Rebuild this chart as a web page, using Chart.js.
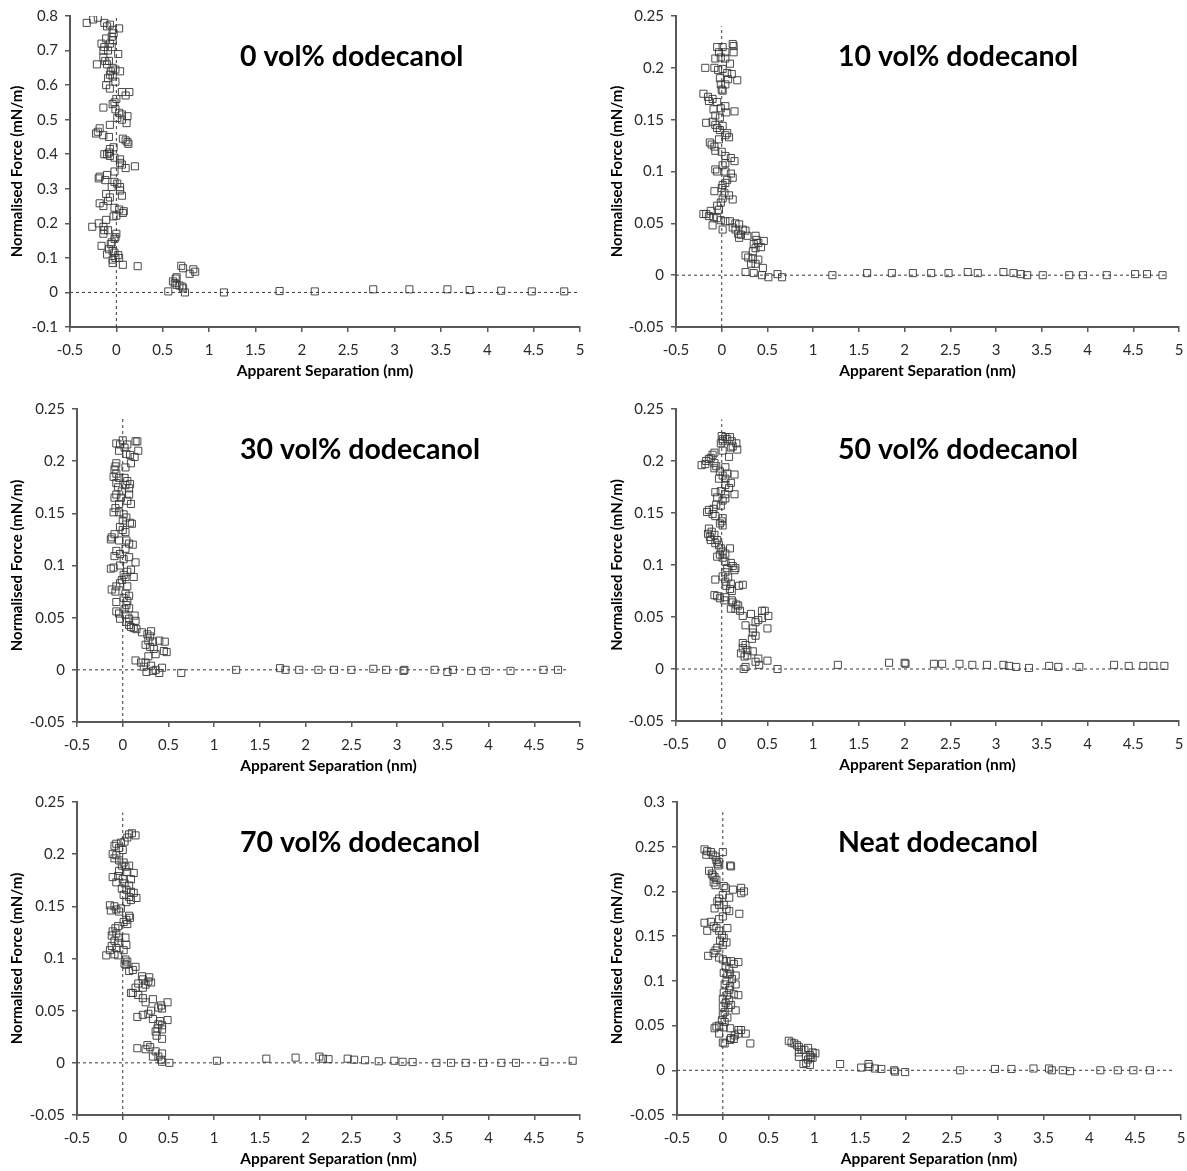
<!DOCTYPE html>
<html>
<head>
<meta charset="utf-8">
<title>Normalised force vs apparent separation</title>
<script src="https://cdn.jsdelivr.net/npm/chart.js@4.4.1/dist/chart.umd.min.js"></script>
<style>
  html, body { margin: 0; padding: 0; background: #fff; }
  #wrap { position: relative; width: 1187px; height: 1171px; overflow: hidden; }
  #wrap canvas { position: absolute; }
</style>
</head>
<body>
<div id="wrap">
  <canvas id="c0"></canvas>
  <canvas id="c10"></canvas>
  <canvas id="c30"></canvas>
  <canvas id="c50"></canvas>
  <canvas id="c70"></canvas>
  <canvas id="cNeat"></canvas>
</div>
<script>
// ---- measured force curves: apparent separation (nm) and normalised force (mN/m) ----
const sep0 = [
-0.32,-0.25,-0.20,-0.13,-0.10,-0.07,-0.04,0.03,-0.03,-0.05,
-0.11,-0.04,-0.16,-0.13,-0.07,-0.14,-0.09,-0.05,0.02,-0.14,
-0.12,-0.21,-0.10,-0.08,-0.04,-0.01,0.04,-0.06,-0.07,-0.09,
-0.04,-0.01,-0.11,-0.07,0.06,0.14,0.10,0.00,-0.02,-0.14,
-0.04,-0.01,0.03,0.06,0.12,0.01,0.06,0.11,-0.07,-0.18,
-0.20,-0.22,-0.14,-0.08,0.07,0.10,0.13,0.12,-0.03,-0.07,
-0.08,-0.10,-0.13,-0.02,-0.07,0.04,0.04,0.06,0.10,0.20,
-0.02,-0.10,-0.18,-0.19,-0.12,-0.02,0.01,-0.05,0.04,0.04,
0.06,-0.11,-0.07,-0.09,-0.18,-0.14,-0.02,0.03,0.08,0.07,
-0.03,0.00,-0.11,-0.19,-0.26,-0.14,-0.13,-0.09,-0.14,0.00,
-0.01,-0.02,-0.05,-0.06,-0.16,-0.08,-0.04,-0.02,-0.10,0.02,
-0.01,-0.04,0.03,-0.04,0.07,0.23,
0.70,0.72,0.83,0.85,0.79,0.65,0.64,0.61,0.63,0.65,0.68,0.71,0.72,0.56,0.74,
1.16,1.76,2.14,2.77,3.16,3.57,3.81,4.15,4.48,4.83];
const force0 = [
0.78,0.79,0.795,0.78,0.77,0.775,0.76,0.764,0.75,0.74,
0.735,0.73,0.72,0.71,0.72,0.70,0.70,0.71,0.69,0.68,
0.67,0.66,0.66,0.67,0.65,0.645,0.64,0.64,0.63,0.62,
0.625,0.61,0.60,0.59,0.58,0.58,0.57,0.56,0.55,0.535,
0.545,0.53,0.52,0.515,0.51,0.505,0.50,0.49,0.485,0.475,
0.465,0.46,0.455,0.45,0.445,0.44,0.43,0.435,0.42,0.415,
0.405,0.40,0.40,0.39,0.395,0.385,0.375,0.37,0.36,0.365,
0.35,0.34,0.335,0.33,0.325,0.32,0.315,0.305,0.305,0.295,
0.28,0.285,0.275,0.265,0.258,0.25,0.245,0.24,0.235,0.23,
0.22,0.222,0.21,0.20,0.19,0.19,0.18,0.18,0.17,0.17,
0.16,0.155,0.145,0.14,0.135,0.125,0.12,0.115,0.11,0.108,
0.10,0.095,0.10,0.085,0.08,0.076,
0.077,0.07,0.067,0.06,0.054,0.044,0.04,0.032,0.027,0.022,0.02,0.017,0.012,0.003,0.0,
0.0,0.004,0.003,0.009,0.009,0.009,0.007,0.005,0.003,0.003];

const sep10 = [
-0.05,0.01,0.04,0.12,0.13,0.13,-0.03,-0.01,-0.07,0.04,
0.09,-0.18,-0.08,-0.04,0.01,0.06,0.11,-0.02,0.07,0.17,
-0.01,0.04,0.00,0.01,-0.20,-0.15,-0.10,-0.14,-0.05,0.04,
-0.09,-0.01,0.14,0.05,-0.07,-0.02,-0.17,-0.10,-0.07,-0.05,
0.01,-0.02,0.06,0.04,0.08,-0.03,-0.13,-0.11,-0.08,-0.07,
0.00,0.04,0.10,0.14,0.04,0.01,-0.07,-0.05,0.04,0.10,
0.12,0.06,0.04,0.01,0.00,-0.08,0.03,0.08,0.12,0.01,
-0.01,-0.05,-0.03,-0.12,-0.20,-0.17,-0.14,-0.09,-0.05,-0.01,
-0.10,0.01,0.04,0.09,0.15,0.19,0.12,0.15,0.18,0.21,
0.19,0.23,0.26,0.28,0.37,0.38,0.35,0.40,0.46,0.43,
0.37,0.34,0.26,0.29,0.34,0.40,0.37,0.32,0.45,0.26,
0.35,0.44,0.51,0.61,0.66,1.21,1.59,1.86,2.09,2.29,
2.48,2.69,2.80,3.08,3.19,3.27,3.34,3.51,3.80,3.95,
4.21,4.52,4.65,4.82];
const force10 = [
0.22,0.22,0.215,0.223,0.221,0.215,0.215,0.21,0.209,0.209,
0.204,0.20,0.20,0.198,0.199,0.195,0.194,0.19,0.189,0.188,
0.184,0.184,0.179,0.178,0.175,0.172,0.17,0.168,0.167,0.163,
0.16,0.161,0.158,0.157,0.154,0.152,0.147,0.148,0.145,0.142,
0.144,0.14,0.137,0.135,0.133,0.131,0.128,0.126,0.124,0.12,
0.119,0.115,0.113,0.11,0.108,0.106,0.102,0.10,0.10,0.098,
0.094,0.092,0.089,0.087,0.084,0.081,0.079,0.077,0.073,0.074,
0.07,0.067,0.063,0.062,0.059,0.059,0.057,0.056,0.055,0.053,
0.048,0.044,0.052,0.052,0.05,0.049,0.046,0.044,0.04,0.039,
0.036,0.044,0.043,0.038,0.038,0.034,0.03,0.031,0.033,0.027,
0.026,0.023,0.019,0.017,0.016,0.015,0.011,0.011,0.007,0.003,
0.002,0.0,-0.002,0.001,-0.002,0.0,0.002,0.002,0.002,0.002,
0.002,0.003,0.002,0.003,0.002,0.001,0.0,0.0,0.0,0.0,
0.0,0.001,0.001,0.0];

const sep30 = [
-0.07,0.00,-0.03,0.05,0.14,0.16,0.17,0.02,-0.04,0.04,
0.08,0.13,0.09,-0.07,0.03,-0.08,-0.09,-0.07,-0.10,-0.04,
0.02,-0.07,0.05,0.08,0.03,0.07,-0.05,-0.01,-0.07,-0.09,
-0.02,0.07,0.05,0.09,-0.04,-0.08,-0.10,-0.04,0.01,0.04,
0.00,0.08,0.10,-0.03,0.00,0.03,-0.09,-0.12,-0.13,-0.04,
0.04,0.07,0.11,0.03,-0.07,-0.03,-0.09,0.07,0.01,0.14,
-0.03,-0.13,-0.10,0.09,0.05,0.01,0.03,0.12,-0.01,-0.03,
-0.07,-0.12,0.05,-0.08,0.03,0.07,0.01,0.05,-0.07,0.04,
0.07,0.02,-0.07,-0.04,0.03,0.13,-0.03,0.07,0.14,0.04,
0.07,0.09,0.12,0.15,0.21,0.31,0.27,0.30,0.28,0.33,
0.40,0.46,0.25,0.30,0.34,0.45,0.48,0.36,0.28,0.14,
0.20,0.25,0.23,0.31,0.43,0.36,0.26,0.33,0.40,0.64,
1.24,1.72,1.78,1.93,2.14,2.31,2.50,2.74,2.88,3.07,
3.08,3.41,3.55,3.61,3.81,3.97,4.24,4.60,4.76];
const force30 = [
0.217,0.22,0.216,0.216,0.219,0.219,0.21,0.213,0.21,0.207,
0.206,0.204,0.198,0.198,0.194,0.195,0.192,0.188,0.185,0.184,
0.184,0.179,0.181,0.178,0.177,0.174,0.175,0.171,0.168,0.165,
0.165,0.168,0.162,0.159,0.159,0.155,0.151,0.151,0.149,0.146,
0.143,0.141,0.14,0.137,0.134,0.132,0.13,0.127,0.125,0.124,
0.124,0.121,0.12,0.116,0.114,0.111,0.109,0.108,0.106,0.103,
0.10,0.097,0.098,0.096,0.094,0.091,0.089,0.089,0.086,0.083,
0.08,0.077,0.08,0.075,0.073,0.071,0.069,0.066,0.065,0.062,
0.059,0.058,0.056,0.054,0.053,0.052,0.049,0.049,0.047,0.046,
0.043,0.041,0.04,0.039,0.036,0.037,0.034,0.032,0.028,0.027,
0.028,0.027,0.024,0.022,0.02,0.018,0.017,0.015,0.013,0.009,
0.007,0.007,0.003,0.004,0.002,0.0,-0.002,-0.001,-0.003,-0.003,
0.0,0.0016,0.0,0.0,0.0,0.0,0.0,0.001,0.0,-0.001,
0.0,0.0,-0.002,0.0,-0.001,-0.001,-0.001,0.0,0.0];

const sep50 = [
0.00,0.04,0.09,0.01,0.06,-0.01,0.01,0.11,0.16,0.12,
0.10,0.17,0.01,0.08,-0.08,-0.10,-0.12,-0.14,-0.17,-0.22,
-0.18,-0.08,-0.06,-0.08,0.04,-0.02,0.01,0.06,0.14,-0.03,
0.04,0.10,0.04,0.08,-0.07,-0.01,0.04,0.14,-0.05,0.01,
0.04,-0.06,-0.01,-0.09,-0.14,-0.16,-0.10,-0.07,0.01,0.00,
-0.02,0.01,-0.14,-0.15,-0.11,-0.08,-0.13,-0.12,-0.05,-0.07,
-0.03,-0.01,0.09,0.01,0.04,-0.02,-0.05,0.01,0.04,0.10,
0.12,0.15,0.14,0.06,0.04,0.01,0.07,-0.07,0.04,0.10,
0.05,0.19,0.23,0.09,0.11,-0.08,-0.05,-0.02,0.03,0.04,
0.11,0.12,0.16,0.18,0.10,0.15,0.20,0.23,0.32,0.44,
0.47,0.51,0.44,0.40,0.26,0.37,0.50,0.34,0.34,0.37,
0.33,0.23,0.26,0.23,0.28,0.21,0.34,0.25,0.28,0.40,
0.50,0.37,0.41,0.26,0.24,0.61,1.27,1.83,2.00,2.01,
2.32,2.41,2.60,2.74,2.90,3.08,3.14,3.22,3.36,3.58,
3.68,3.91,4.29,4.45,4.61,4.72,4.84];
const force50 = [
0.224,0.223,0.223,0.221,0.221,0.217,0.219,0.219,0.217,0.214,
0.213,0.211,0.21,0.204,0.208,0.206,0.203,0.202,0.20,0.196,
0.197,0.198,0.195,0.193,0.194,0.19,0.186,0.188,0.187,0.183,
0.183,0.179,0.177,0.174,0.17,0.171,0.168,0.168,0.165,0.162,
0.164,0.158,0.157,0.154,0.153,0.151,0.149,0.147,0.145,0.142,
0.14,0.138,0.135,0.13,0.132,0.129,0.127,0.124,0.124,0.121,
0.119,0.116,0.116,0.113,0.111,0.11,0.108,0.107,0.103,0.102,
0.099,0.097,0.095,0.097,0.093,0.089,0.088,0.086,0.084,0.082,
0.08,0.08,0.081,0.077,0.075,0.071,0.07,0.068,0.066,0.069,
0.066,0.064,0.062,0.061,0.058,0.058,0.056,0.051,0.053,0.056,
0.056,0.051,0.049,0.047,0.042,0.045,0.039,0.039,0.035,0.032,
0.029,0.025,0.023,0.02,0.018,0.015,0.017,0.012,0.013,0.01,
0.008,0.007,0.004,0.002,0.0,0.0,0.004,0.006,0.006,0.005,
0.005,0.005,0.005,0.004,0.004,0.004,0.003,0.002,0.001,0.003,
0.002,0.002,0.004,0.003,0.003,0.003,0.003];

const sep70 = [
0.07,0.10,0.14,0.05,0.02,-0.02,-0.07,-0.09,-0.04,0.00,
-0.11,-0.07,-0.09,-0.04,0.01,-0.01,0.03,0.07,-0.04,0.05,
0.12,-0.05,-0.11,0.00,0.09,-0.07,0.02,0.07,-0.01,0.04,
0.09,0.12,0.01,0.07,0.15,0.09,0.04,-0.14,-0.09,-0.07,
-0.13,-0.02,-0.04,0.07,0.08,0.04,0.01,0.05,-0.05,-0.08,
-0.11,-0.07,-0.12,-0.04,0.03,-0.09,-0.05,0.04,-0.12,-0.07,
0.01,-0.14,-0.18,-0.09,-0.05,0.03,0.05,0.02,0.04,0.11,
0.07,0.14,0.21,0.29,0.22,0.28,0.31,0.17,0.25,0.14,
0.22,0.11,0.17,0.09,0.22,0.33,0.25,0.49,0.42,0.39,
0.43,0.31,0.28,0.22,0.16,0.33,0.49,0.41,0.39,0.43,
0.38,0.43,0.36,0.37,0.43,0.27,0.30,0.16,0.25,0.36,
0.43,0.33,0.39,0.42,0.43,0.51,1.03,1.57,1.89,2.15,
2.19,2.25,2.46,2.53,2.65,2.80,2.97,3.06,3.17,3.43,
3.59,3.75,3.94,4.14,4.30,4.61,4.92];
const force70 = [
0.219,0.22,0.218,0.216,0.212,0.211,0.21,0.208,0.206,0.204,
0.2,0.199,0.196,0.194,0.192,0.189,0.188,0.189,0.184,0.183,
0.182,0.179,0.178,0.176,0.176,0.173,0.172,0.17,0.167,0.166,
0.164,0.163,0.161,0.159,0.158,0.156,0.154,0.151,0.15,0.147,
0.146,0.148,0.145,0.141,0.139,0.137,0.135,0.133,0.131,0.129,
0.126,0.124,0.122,0.12,0.12,0.117,0.115,0.113,0.112,0.11,
0.108,0.108,0.103,0.104,0.103,0.099,0.097,0.095,0.094,0.089,
0.088,0.092,0.083,0.082,0.08,0.078,0.077,0.076,0.075,0.072,
0.072,0.067,0.065,0.067,0.062,0.061,0.058,0.058,0.055,0.053,
0.052,0.05,0.047,0.046,0.044,0.042,0.041,0.04,0.037,0.036,
0.033,0.032,0.03,0.026,0.023,0.017,0.015,0.014,0.013,0.011,
0.009,0.006,0.006,0.003,0.001,0.0,0.002,0.004,0.005,0.006,
0.004,0.0035,0.004,0.003,0.0025,0.0015,0.002,0.001,0.0007,0.0,
0.0,0.0,0.0,0.0,0.0,0.001,0.002];

const sepNeat = [
-0.20,-0.17,-0.18,-0.13,-0.11,-0.08,-0.07,-0.04,-0.06,0.00,
-0.05,0.08,0.09,-0.15,-0.12,-0.11,-0.09,-0.07,-0.10,-0.08,
0.01,0.03,0.11,0.20,0.23,0.20,0.07,0.00,-0.04,-0.06,
-0.04,-0.09,0.01,0.04,0.07,0.18,0.00,-0.04,-0.20,-0.13,
-0.17,-0.10,-0.07,0.05,-0.04,-0.01,0.01,-0.03,0.04,0.00,
-0.06,-0.08,-0.10,-0.16,-0.04,0.00,0.04,0.09,0.17,0.12,
0.03,0.07,0.01,0.05,0.08,0.14,0.10,0.04,0.02,0.08,
0.14,0.07,0.01,0.12,0.05,0.17,0.00,0.07,0.03,0.09,
0.00,0.06,0.14,0.02,0.00,0.05,-0.01,0.02,-0.07,-0.09,
-0.04,0.01,0.08,0.17,0.20,0.17,0.25,-0.04,0.13,0.09,
0.12,0.08,0.00,0.02,0.30,0.72,0.75,0.78,0.81,0.83,
0.86,0.83,0.89,0.93,0.98,1.01,0.95,0.96,0.98,0.93,
0.91,0.88,0.95,0.83,1.28,1.51,1.59,1.60,1.66,1.73,
1.87,1.88,1.99,2.59,2.97,3.15,3.39,3.56,3.59,3.71,
3.79,4.12,4.31,4.48,4.66];
const forceNeat = [
0.247,0.245,0.241,0.244,0.241,0.239,0.235,0.233,0.231,0.244,
0.229,0.229,0.228,0.223,0.22,0.218,0.216,0.213,0.21,0.207,
0.206,0.204,0.202,0.204,0.20,0.198,0.193,0.196,0.192,0.189,
0.185,0.181,0.185,0.18,0.178,0.175,0.172,0.169,0.165,0.166,
0.156,0.161,0.159,0.159,0.156,0.151,0.148,0.145,0.143,0.14,
0.137,0.134,0.131,0.128,0.126,0.124,0.122,0.122,0.121,0.119,
0.116,0.113,0.109,0.107,0.108,0.106,0.102,0.10,0.096,0.094,
0.096,0.09,0.087,0.085,0.084,0.084,0.08,0.079,0.075,0.073,
0.071,0.07,0.067,0.065,0.062,0.059,0.056,0.054,0.049,0.047,
0.05,0.048,0.047,0.045,0.045,0.041,0.041,0.041,0.039,0.036,
0.035,0.034,0.031,0.03,0.03,0.033,0.031,0.03,0.028,0.026,
0.023,0.02,0.023,0.025,0.02,0.019,0.017,0.015,0.014,0.012,
0.008,0.007,0.006,0.015,0.007,0.003,0.007,0.004,0.002,0.0015,
0.0,-0.0015,-0.002,0.0,0.0015,0.0015,0.002,0.002,0.0,0.0,
-0.001,0.0,0.0,0.0,0.0];

// ---- dashed reference lines: zero force (x span) and zero separation (y span) ----
const zeroForceSpan = { p0: [-0.5, 5], p10: [-0.5, 4.87], p30: [-0.5, 4.87], p50: [-0.5, 4.87], p70: [-0.5, 4.95], pNeat: [-0.5, 4.93] };
const zeroSepSpan   = { p0: [-0.1, 0.8], p10: [-0.05, 0.24], p30: [-0.05, 0.242], p50: [-0.05, 0.24], p70: [-0.05, 0.24], pNeat: [-0.05, 0.29] };

// ---- axis ranges and labels ----
const xTicks = { min: -0.5, max: 5, step: 0.5 };
const yRange = { p0: [-0.1, 0.8, 0.1], p10: [-0.05, 0.25, 0.05], p30: [-0.05, 0.25, 0.05], p50: [-0.05, 0.25, 0.05], p70: [-0.05, 0.25, 0.05], pNeat: [-0.05, 0.3, 0.05] };
const panelTitles = { p0: '0 vol% dodecanol', p10: '10 vol% dodecanol', p30: '30 vol% dodecanol', p50: '50 vol% dodecanol', p70: '70 vol% dodecanol', pNeat: 'Neat dodecanol' };
const xTitle = 'Apparent Separation (nm)';
const yTitle = 'Normalised Force (mN/m)';

// ---- page layout (pixels): canvas box and plot area, in page coordinates ----
const layoutSpec = [
  { key: 'p0',    canvas: 'c0',    sep: sep0,    force: force0,    box: [0, 0, 595],     area: [70, 13, 580, 327] },
  { key: 'p10',   canvas: 'c10',   sep: sep10,   force: force10,   box: [600, 0, 587],   area: [676, 13, 1179, 327] },
  { key: 'p30',   canvas: 'c30',   sep: sep30,   force: force30,   box: [0, 393, 595],   area: [77, 407, 580, 722] },
  { key: 'p50',   canvas: 'c50',   sep: sep50,   force: force50,   box: [600, 393, 587], area: [676, 406, 1179, 721] },
  { key: 'p70',   canvas: 'c70',   sep: sep70,   force: force70,   box: [0, 786, 595],   area: [77, 799, 580, 1115] },
  { key: 'pNeat', canvas: 'cNeat', sep: sepNeat, force: forceNeat, box: [600, 786, 587], area: [677, 800, 1184, 1115] }
];

const FONT = 'Lato, "Open Sans", sans-serif';
const AXIS_COLOR = '#595959';
const X_BAND = 58;

function fmt(v) {
  const r = Math.round(v * 1000) / 1000;
  return String(Object.is(r, -0) ? 0 : r);
}

// Bold caption drawn inside the plot area
const captionPlugin = {
  id: 'caption',
  afterDraw(chart, args, opts) {
    const ctx = chart.ctx;
    ctx.save();
    ctx.font = 'bold ' + opts.size + 'px ' + FONT;
    ctx.fillStyle = '#000';
    ctx.textBaseline = 'middle';
    ctx.textAlign = 'left';
    ctx.fillText(opts.text, opts.x, opts.y);
    ctx.restore();
  }
};

function build(spec) {
  const [cx, cy, cw] = spec.box;
  const [al, at, ar, ab] = spec.area;
  const ch = ab + X_BAND - cy;
  const el = document.getElementById(spec.canvas);
  el.width = cw; el.height = ch;
  el.style.left = cx + 'px'; el.style.top = cy + 'px';
  el.style.width = cw + 'px'; el.style.height = ch + 'px';

  const n = Math.min(spec.sep.length, spec.force.length);
  const pts = [];
  for (let i = 0; i < n; i++) pts.push({ x: spec.sep[i], y: spec.force[i] });

  const hz = zeroForceSpan[spec.key];
  const vz = zeroSepSpan[spec.key];
  const [yMin, yMax, yStep] = yRange[spec.key];

  const dashed = { showLine: true, borderColor: '#3a3a3a', borderWidth: 1, borderDash: [3, 3], pointRadius: 0, fill: false, order: 2 };

  new Chart(el, {
    type: 'scatter',
    data: {
      datasets: [
        { data: pts, pointStyle: 'rect', pointRadius: 5, borderWidth: 1,
          borderColor: 'rgba(55,55,55,0.9)', backgroundColor: 'rgba(0,0,0,0)', order: 0 },
        Object.assign({ data: [{ x: hz[0], y: 0 }, { x: hz[1], y: 0 }] }, dashed),
        Object.assign({ data: [{ x: 0, y: vz[0] }, { x: 0, y: vz[1] }] }, dashed)
      ]
    },
    options: {
      responsive: false,
      animation: false,
      events: [],
      layout: { padding: { left: 0, top: at - cy, right: cx + cw - ar, bottom: 0 } },
      plugins: {
        legend: { display: false },
        tooltip: { enabled: false },
        caption: { text: panelTitles[spec.key], x: (cx === 0 ? 240 : 238), y: 57, size: 28.5 }
      },
      scales: {
        x: {
          type: 'linear', min: xTicks.min, max: xTicks.max,
          ticks: { stepSize: xTicks.step, callback: fmt, color: '#2a2a2a', font: { family: FONT, size: 15 }, padding: 9, maxRotation: 0, autoSkip: false },
          grid: { drawOnChartArea: false, drawTicks: true, tickLength: 5, color: AXIS_COLOR, lineWidth: 1.5 },
          border: { display: true, color: AXIS_COLOR, width: 2 },
          title: { display: true, text: xTitle, color: '#000', font: { family: FONT, size: 15.5, weight: 'bold' }, padding: { top: 0, bottom: 5 } },
          // fixed band height; end-label overhang only needs half a glyph, not the tick padding
          afterFit(s) { s.height = X_BAND; s.paddingLeft = 0; s.paddingRight = 5; }
        },
        y: {
          type: 'linear', min: yMin, max: yMax,
          ticks: { stepSize: yStep, callback: fmt, color: '#2a2a2a', font: { family: FONT, size: 15 }, padding: 7, autoSkip: false },
          grid: { drawOnChartArea: false, drawTicks: true, tickLength: 5, color: AXIS_COLOR, lineWidth: 1.5 },
          border: { display: true, color: AXIS_COLOR, width: 2 },
          title: { display: true, text: yTitle, color: '#000', font: { family: FONT, size: 15, weight: 'bold' }, padding: { top: 8, bottom: 0 } },
          afterFit(s) { s.width = al - cx; }
        }
      }
    },
    plugins: [captionPlugin]
  });
}

Chart.defaults.font.family = FONT;
const ready = (document.fonts && document.fonts.load)
  ? Promise.all([document.fonts.load('15px Lato'), document.fonts.load('bold 28px Lato')]).catch(() => {})
  : Promise.resolve();
ready.then(() => layoutSpec.forEach(build));
</script>
</body>
</html>
